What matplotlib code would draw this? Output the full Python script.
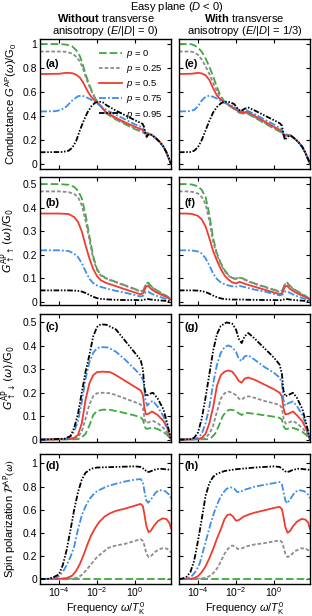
import matplotlib
matplotlib.use("Agg")
import matplotlib.pyplot as plt
import numpy as np
from matplotlib.ticker import NullLocator

plt.rcParams['font.family'] = ['Liberation Sans', 'DejaVu Sans']
plt.rcParams['mathtext.fontset'] = 'custom'
plt.rcParams['mathtext.rm'] = 'Liberation Sans'
plt.rcParams['mathtext.it'] = 'Liberation Sans:italic'
plt.rcParams['mathtext.bf'] = 'Liberation Sans:bold'
plt.rcParams['mathtext.sf'] = 'Liberation Sans'
plt.rcParams['mathtext.cal'] = 'Liberation Sans:italic'
plt.rcParams['lines.scale_dashes'] = False

# x values are log10(omega / T_K^0)

# ---- (a) conductance, E = 0
a_lx = [-5, -4, -3.6, -3.3, -3.1, -2.9, -2.75, -2.6, -2.45, -2.3, -2.1, -1.9, -1.5, -1.0, -0.5, 0,
        0.4, 0.5, 0.6, 0.7, 0.9, 1.1, 1.3, 1.5, 1.65, 1.8, 1.9]
a_p0 = [1.0, 1.0, 0.995, 0.98, 0.95, 0.90, 0.83, 0.75, 0.68, 0.62, 0.55, 0.50, 0.42, 0.37, 0.33, 0.29,
        0.265, 0.255, 0.26, 0.255, 0.24, 0.215, 0.185, 0.145, 0.10, 0.04, 0.0]
a_p25 = [0.9375, 0.9375, 0.935, 0.92, 0.895, 0.855, 0.80, 0.73, 0.665, 0.61, 0.545, 0.50, 0.425, 0.375, 0.335, 0.295,
         0.27, 0.255, 0.255, 0.255, 0.24, 0.215, 0.185, 0.145, 0.10, 0.04, 0.0]
a_p50 = [0.75, 0.752, 0.76, 0.757, 0.745, 0.72, 0.685, 0.64, 0.595, 0.56, 0.525, 0.50, 0.43, 0.385, 0.345, 0.31,
         0.285, 0.27, 0.25, 0.25, 0.24, 0.215, 0.185, 0.145, 0.10, 0.04, 0.0]
a_lx_p75 = [-5, -4.2, -3.9, -3.6, -3.3, -3.0, -2.8, -2.6, -2.3, -2.0, -1.5, -1.0, -0.5, 0, 0.4, 0.5, 0.6, 0.7,
            0.9, 1.1, 1.3, 1.5, 1.65, 1.8, 1.9]
a_p75 = [0.4375, 0.44, 0.45, 0.48, 0.53, 0.565, 0.57, 0.56, 0.535, 0.505, 0.45, 0.41, 0.37, 0.33, 0.305, 0.28,
         0.245, 0.25, 0.24, 0.215, 0.185, 0.145, 0.10, 0.04, 0.0]
a_lx_p95 = [-5, -3.8, -3.5, -3.3, -3.1, -2.9, -2.7, -2.5, -2.3, -2.1, -1.9, -1.7, -1.5, -1.0, -0.5, 0, 0.4, 0.48,
            0.55, 0.62, 0.7, 0.8, 0.9, 1.1, 1.3, 1.5, 1.65, 1.8, 1.9]
a_p95 = [0.0975, 0.10, 0.11, 0.135, 0.19, 0.28, 0.36, 0.43, 0.48, 0.51, 0.52, 0.515, 0.49, 0.445, 0.405, 0.365,
         0.335, 0.31, 0.255, 0.225, 0.245, 0.25, 0.24, 0.215, 0.185, 0.145, 0.10, 0.04, 0.0]

# ---- (e) conductance, E/|D| = 1/3
e_lx = [-5, -4.4, -4.2, -4.0, -3.8, -3.6, -3.4, -3.2, -3.0, -2.8, -2.6, -2.4, -2.2, -2.0, -1.8, -1.6, -1.4,
        -1.0, -0.5, 0, 0.3, 0.42, 0.5, 0.6, 0.7, 0.9, 1.1, 1.3, 1.5, 1.65, 1.8, 1.9]
e_p0 = [1.0, 1.0, 0.99, 0.97, 0.935, 0.88, 0.81, 0.73, 0.64, 0.565, 0.52, 0.49, 0.47, 0.445, 0.425, 0.42, 0.42,
        0.385, 0.34, 0.295, 0.27, 0.26, 0.245, 0.245, 0.245, 0.235, 0.21, 0.18, 0.14, 0.095, 0.04, 0.0]
e_p25 = [0.9375, 0.9375, 0.93, 0.91, 0.87, 0.815, 0.75, 0.675, 0.605, 0.55, 0.515, 0.49, 0.472, 0.45, 0.43, 0.425,
         0.425, 0.39, 0.345, 0.3, 0.275, 0.265, 0.245, 0.24, 0.245, 0.235, 0.21, 0.18, 0.14, 0.095, 0.04, 0.0]
e_p50 = [0.75, 0.752, 0.755, 0.76, 0.755, 0.74, 0.70, 0.63, 0.57, 0.535, 0.515, 0.495, 0.475, 0.455, 0.435, 0.43,
         0.435, 0.40, 0.355, 0.31, 0.285, 0.27, 0.245, 0.235, 0.24, 0.235, 0.21, 0.18, 0.14, 0.095, 0.04, 0.0]
e_lx_p75 = [-5, -4.5, -4.2, -4.0, -3.8, -3.6, -3.4, -3.2, -3.0, -2.8, -2.6, -2.4, -2.2, -2.0, -1.8, -1.65, -1.45,
            -1.0, -0.5, 0, 0.3, 0.42, 0.5, 0.6, 0.7, 0.9, 1.1, 1.3, 1.5, 1.65, 1.8, 1.9]
e_p75 = [0.4375, 0.44, 0.45, 0.48, 0.53, 0.56, 0.57, 0.56, 0.545, 0.525, 0.51, 0.5, 0.485, 0.465, 0.445, 0.44,
         0.448, 0.415, 0.37, 0.33, 0.3, 0.285, 0.25, 0.235, 0.24, 0.235, 0.21, 0.18, 0.14, 0.095, 0.04, 0.0]
e_lx_p95 = [-5, -4.4, -4.2, -4.0, -3.8, -3.6, -3.4, -3.2, -3.0, -2.8, -2.6, -2.3, -2.1, -1.9, -1.75, -1.55, -1.35,
            -1.0, -0.5, 0, 0.3, 0.42, 0.5, 0.58, 0.68, 0.8, 0.9, 1.1, 1.3, 1.5, 1.65, 1.8, 1.9]
e_p95 = [0.0975, 0.10, 0.11, 0.14, 0.2, 0.28, 0.36, 0.43, 0.475, 0.505, 0.52, 0.515, 0.5, 0.46, 0.44, 0.46, 0.47,
         0.445, 0.405, 0.365, 0.34, 0.32, 0.25, 0.2, 0.22, 0.235, 0.235, 0.21, 0.18, 0.14, 0.095, 0.04, 0.0]

# ---- (b) G_up,up, E = 0
b_lx = [-5, -4, -3.5, -3.2, -3.0, -2.8, -2.6, -2.4, -2.2, -2.0, -1.8, -1.5, -1.0, -0.5, 0, 0.3, 0.45, 0.58,
        0.7, 0.85, 1.1, 1.4, 1.7, 1.9]
b_p0 = [0.5, 0.5, 0.497, 0.488, 0.472, 0.44, 0.37, 0.28, 0.195, 0.14, 0.115, 0.10, 0.085, 0.07, 0.055, 0.045,
        0.05, 0.078, 0.082, 0.068, 0.052, 0.038, 0.024, 0.012]
b_p25 = [0.469, 0.469, 0.466, 0.458, 0.445, 0.41, 0.345, 0.265, 0.185, 0.135, 0.112, 0.098, 0.083, 0.068, 0.053,
         0.043, 0.048, 0.075, 0.078, 0.065, 0.05, 0.036, 0.022, 0.011]
b_p50 = [0.375, 0.375, 0.373, 0.36, 0.34, 0.30, 0.24, 0.185, 0.14, 0.11, 0.092, 0.08, 0.067, 0.053, 0.04, 0.032,
         0.038, 0.065, 0.068, 0.055, 0.042, 0.03, 0.019, 0.009]
b_p75 = [0.219, 0.219, 0.216, 0.205, 0.19, 0.165, 0.13, 0.098, 0.08, 0.07, 0.064, 0.057, 0.047, 0.039, 0.029,
         0.023, 0.027, 0.042, 0.043, 0.036, 0.027, 0.019, 0.011, 0.005]
b_p95 = [0.049, 0.049, 0.049, 0.048, 0.047, 0.044, 0.038, 0.03, 0.022, 0.016, 0.013, 0.011, 0.009, 0.008, 0.008,
         0.007, 0.008, 0.012, 0.012, 0.01, 0.008, 0.006, 0.004, 0.002]

# ---- (f) G_up,up, E/|D| = 1/3
f_lx = [-5, -4.6, -4.3, -4.0, -3.8, -3.6, -3.4, -3.2, -3.0, -2.8, -2.6, -2.4, -2.2, -2.0, -1.8, -1.6, -1.3,
        -1.0, -0.5, 0, 0.3, 0.45, 0.58, 0.7, 0.85, 1.1, 1.4, 1.7, 1.9]
f_p0 = [0.5, 0.5, 0.498, 0.49, 0.475, 0.445, 0.37, 0.27, 0.205, 0.165, 0.135, 0.115, 0.102, 0.099, 0.105, 0.098,
        0.087, 0.078, 0.065, 0.052, 0.044, 0.05, 0.078, 0.082, 0.068, 0.052, 0.038, 0.024, 0.012]
f_p25 = [0.469, 0.469, 0.467, 0.46, 0.445, 0.415, 0.345, 0.255, 0.198, 0.16, 0.131, 0.112, 0.1, 0.097, 0.103,
         0.096, 0.085, 0.076, 0.063, 0.05, 0.042, 0.048, 0.075, 0.078, 0.065, 0.05, 0.036, 0.022, 0.011]
f_p50 = [0.375, 0.375, 0.373, 0.365, 0.35, 0.32, 0.27, 0.215, 0.175, 0.14, 0.112, 0.095, 0.083, 0.079, 0.085,
         0.079, 0.071, 0.064, 0.052, 0.04, 0.033, 0.039, 0.065, 0.068, 0.055, 0.042, 0.03, 0.019, 0.009]
f_p75 = [0.219, 0.219, 0.218, 0.214, 0.205, 0.185, 0.155, 0.12, 0.097, 0.083, 0.075, 0.07, 0.066, 0.065, 0.068,
         0.064, 0.058, 0.052, 0.044, 0.034, 0.028, 0.031, 0.044, 0.045, 0.038, 0.028, 0.019, 0.011, 0.004]
f_p95 = [0.049, 0.049, 0.049, 0.048, 0.046, 0.042, 0.035, 0.027, 0.02, 0.015, 0.012, 0.011, 0.01, 0.01, 0.01,
         0.01, 0.009, 0.009, 0.008, 0.008, 0.007, 0.008, 0.012, 0.012, 0.01, 0.008, 0.006, 0.004, 0.002]

# ---- (c) G_up,down, E = 0
c_lx_p0 = [-5, -3.0, -2.8, -2.6, -2.4, -2.2, -2.0, -1.7, -1.3, -1.0, -0.5, 0, 0.3, 0.42, 0.52, 0.6, 0.75, 0.95,
           1.2, 1.5, 1.7, 1.9]
c_p0 = [0, 0.002, 0.01, 0.025, 0.06, 0.105, 0.122, 0.128, 0.127, 0.122, 0.113, 0.103, 0.095, 0.085, 0.055, 0.046,
        0.048, 0.052, 0.045, 0.033, 0.02, 0.0]
c_lx_p25 = [-5, -3.2, -3.0, -2.8, -2.6, -2.4, -2.2, -2.0, -1.7, -1.3, -1.0, -0.5, 0, 0.3, 0.42, 0.52, 0.6, 0.75,
            0.95, 1.2, 1.5, 1.7, 1.9]
c_p25 = [0, 0.003, 0.01, 0.035, 0.09, 0.15, 0.185, 0.198, 0.2, 0.198, 0.19, 0.175, 0.16, 0.15, 0.135, 0.085, 0.07,
         0.075, 0.08, 0.07, 0.05, 0.03, 0.0]
c_lx_p50 = [-5, -3.5, -3.2, -3.0, -2.8, -2.6, -2.4, -2.2, -2.0, -1.7, -1.3, -1.0, -0.5, 0, 0.3, 0.42, 0.5, 0.58,
            0.7, 0.9, 1.2, 1.5, 1.7, 1.9]
c_p50 = [0, 0.002, 0.008, 0.02, 0.07, 0.17, 0.24, 0.275, 0.288, 0.29, 0.288, 0.275, 0.25, 0.225, 0.21, 0.19, 0.135,
         0.108, 0.11, 0.12, 0.105, 0.08, 0.05, 0.0]
c_lx_p75 = [-5, -3.7, -3.4, -3.2, -3.0, -2.8, -2.6, -2.4, -2.2, -2.0, -1.8, -1.4, -1.0, -0.5, 0, 0.3, 0.45, 0.55,
            0.65, 0.8, 0.95, 1.2, 1.5, 1.7, 1.9]
c_p75 = [0, 0.003, 0.012, 0.035, 0.08, 0.16, 0.26, 0.33, 0.37, 0.39, 0.395, 0.393, 0.375, 0.34, 0.3, 0.275, 0.25,
         0.17, 0.145, 0.16, 0.165, 0.14, 0.1, 0.055, 0.0]
c_lx_p95 = [-5, -3.7, -3.4, -3.2, -3.0, -2.8, -2.6, -2.4, -2.2, -2.0, -1.8, -1.5, -1.0, -0.5, 0, 0.3, 0.42, 0.5,
            0.6, 0.75, 0.95, 1.2, 1.5, 1.7, 1.9]
c_p95 = [0, 0.004, 0.015, 0.05, 0.11, 0.2, 0.29, 0.36, 0.44, 0.48, 0.492, 0.49, 0.47, 0.42, 0.37, 0.34, 0.3, 0.22,
         0.185, 0.195, 0.2, 0.175, 0.13, 0.07, 0.0]

# ---- (g) G_up,down, E/|D| = 1/3
g_lx_p0 = [-5, -3.5, -3.3, -3.1, -2.9, -2.7, -2.5, -2.3, -2.1, -1.9, -1.7, -1.5, -1.3, -1.0, -0.5, 0, 0.3, 0.42,
           0.52, 0.62, 0.75, 1.0, 1.2, 1.5, 1.7, 1.9]
g_p0 = [0, 0.002, 0.008, 0.025, 0.06, 0.1, 0.122, 0.128, 0.125, 0.115, 0.105, 0.115, 0.113, 0.11, 0.104, 0.098,
        0.093, 0.085, 0.055, 0.045, 0.047, 0.05, 0.045, 0.033, 0.02, 0.0]
g_lx_p25 = [-5, -3.8, -3.6, -3.4, -3.2, -3.0, -2.8, -2.6, -2.4, -2.2, -2.0, -1.85, -1.7, -1.55, -1.35, -1.0, -0.5,
            0, 0.3, 0.42, 0.52, 0.62, 0.75, 1.0, 1.2, 1.5, 1.7, 1.9]
g_p25 = [0, 0.002, 0.008, 0.025, 0.06, 0.12, 0.175, 0.198, 0.205, 0.2, 0.19, 0.175, 0.17, 0.18, 0.185, 0.178,
         0.165, 0.155, 0.148, 0.135, 0.085, 0.068, 0.072, 0.08, 0.07, 0.05, 0.03, 0.0]
g_lx_p50 = [-5, -4.0, -3.8, -3.6, -3.4, -3.2, -3.0, -2.8, -2.6, -2.4, -2.2, -2.0, -1.85, -1.7, -1.55, -1.35, -1.0,
            -0.5, 0, 0.3, 0.42, 0.5, 0.6, 0.75, 1.0, 1.2, 1.5, 1.7, 1.9]
g_p50 = [0, 0.002, 0.008, 0.025, 0.07, 0.14, 0.23, 0.275, 0.29, 0.295, 0.29, 0.27, 0.25, 0.243, 0.26, 0.265, 0.255,
         0.235, 0.215, 0.2, 0.185, 0.135, 0.108, 0.11, 0.12, 0.105, 0.078, 0.045, 0.0]
g_lx_p75 = [-5, -4.2, -4.0, -3.8, -3.6, -3.4, -3.2, -3.0, -2.8, -2.6, -2.4, -2.2, -2.0, -1.85, -1.7, -1.55, -1.35,
            -1.0, -0.5, 0, 0.3, 0.42, 0.5, 0.6, 0.75, 1.0, 1.2, 1.5, 1.7, 1.9]
g_p75 = [0, 0.002, 0.008, 0.025, 0.07, 0.14, 0.24, 0.32, 0.37, 0.395, 0.402, 0.395, 0.375, 0.345, 0.335, 0.355,
         0.36, 0.34, 0.31, 0.285, 0.265, 0.24, 0.17, 0.145, 0.155, 0.163, 0.145, 0.105, 0.06, 0.0]
g_lx_p95 = [-5, -4.4, -4.2, -4.0, -3.8, -3.6, -3.4, -3.2, -3.0, -2.8, -2.5, -2.2, -2.0, -1.85, -1.7, -1.55, -1.35,
            -1.0, -0.5, 0, 0.3, 0.42, 0.5, 0.6, 0.75, 1.0, 1.2, 1.5, 1.7, 1.9]
g_p95 = [0, 0.002, 0.008, 0.03, 0.09, 0.18, 0.28, 0.38, 0.45, 0.485, 0.5, 0.495, 0.47, 0.43, 0.412, 0.44, 0.455,
         0.43, 0.39, 0.35, 0.32, 0.28, 0.21, 0.185, 0.19, 0.2, 0.18, 0.13, 0.07, 0.0]

# ---- (d) spin polarization, E = 0
d_lx_p0 = [-5, 1.9]
d_p0 = [0, 0]
d_lx_p25 = [-5, -3.5, -3.2, -3.0, -2.8, -2.6, -2.4, -2.2, -2.0, -1.7, -1.4, -1.0, -0.5, 0, 0.3, 0.42, 0.5, 0.6,
            0.72, 0.85, 1.1, 1.4, 1.65, 1.8, 1.9]
d_p25 = [0, 0.002, 0.005, 0.015, 0.035, 0.07, 0.11, 0.15, 0.19, 0.23, 0.27, 0.29, 0.305, 0.33, 0.345, 0.33, 0.29,
         0.22, 0.19, 0.2, 0.24, 0.265, 0.265, 0.25, 0.23]
d_lx_p50 = [-5, -4.0, -3.6, -3.3, -3.1, -2.9, -2.7, -2.5, -2.3, -2.1, -1.9, -1.6, -1.3, -1.0, -0.5, 0, 0.3, 0.42,
            0.5, 0.6, 0.72, 0.85, 1.0, 1.2, 1.45, 1.65, 1.8, 1.9]
d_p50 = [0, 0.002, 0.008, 0.03, 0.07, 0.13, 0.21, 0.3, 0.38, 0.44, 0.49, 0.54, 0.57, 0.59, 0.61, 0.635, 0.65, 0.63,
         0.56, 0.46, 0.405, 0.42, 0.46, 0.5, 0.525, 0.52, 0.49, 0.44]
d_lx_p75 = [-5, -4.5, -4.2, -4.0, -3.8, -3.6, -3.4, -3.2, -3.0, -2.8, -2.6, -2.4, -2.2, -2.0, -1.5, -1.0, -0.5, 0,
            0.3, 0.42, 0.5, 0.6, 0.7, 0.85, 1.1, 1.3, 1.6, 1.8, 1.9]
d_p75 = [0, 0.002, 0.01, 0.025, 0.06, 0.12, 0.19, 0.28, 0.43, 0.55, 0.63, 0.69, 0.73, 0.76, 0.8, 0.825, 0.845,
         0.86, 0.865, 0.84, 0.76, 0.68, 0.66, 0.69, 0.75, 0.77, 0.76, 0.73, 0.7]
d_lx_p95 = [-5, -4.6, -4.3, -4.0, -3.8, -3.6, -3.4, -3.2, -3.0, -2.8, -2.6, -2.3, -2.0, -1.0, 0, 0.3, 0.5, 0.65,
            0.8, 1.0, 1.3, 1.6, 1.9]
d_p95 = [0, 0.002, 0.015, 0.04, 0.12, 0.25, 0.42, 0.6, 0.75, 0.86, 0.92, 0.955, 0.965, 0.97, 0.975, 0.97, 0.95,
         0.925, 0.93, 0.945, 0.955, 0.95, 0.945]

# ---- (h) spin polarization, E/|D| = 1/3
h_lx_p0 = [-5, 1.9]
h_p0 = [0, 0]
h_lx_p25 = [-5, -4.0, -3.6, -3.4, -3.2, -3.0, -2.8, -2.6, -2.4, -2.2, -2.05, -1.9, -1.7, -1.4, -1.0, -0.5, 0, 0.3,
            0.42, 0.5, 0.6, 0.72, 0.85, 1.1, 1.4, 1.65, 1.8, 1.9]
h_p25 = [0, 0.002, 0.01, 0.025, 0.05, 0.09, 0.15, 0.22, 0.265, 0.29, 0.28, 0.26, 0.265, 0.285, 0.3, 0.31, 0.325,
         0.335, 0.32, 0.28, 0.22, 0.19, 0.2, 0.24, 0.265, 0.265, 0.25, 0.23]
h_lx_p50 = [-5, -4.4, -4.2, -4.0, -3.8, -3.6, -3.4, -3.2, -3.0, -2.8, -2.6, -2.45, -2.3, -2.15, -2.0, -1.85, -1.6,
            -1.3, -1.0, -0.5, 0, 0.3, 0.42, 0.5, 0.6, 0.72, 0.85, 1.0, 1.2, 1.45, 1.65, 1.8, 1.9]
h_p50 = [0, 0.002, 0.008, 0.025, 0.06, 0.11, 0.18, 0.26, 0.35, 0.43, 0.52, 0.555, 0.56, 0.54, 0.505, 0.51, 0.54,
         0.56, 0.575, 0.595, 0.615, 0.625, 0.605, 0.54, 0.45, 0.4, 0.415, 0.455, 0.495, 0.52, 0.515, 0.49, 0.43]
h_lx_p75 = [-5, -4.7, -4.5, -4.3, -4.1, -3.9, -3.7, -3.5, -3.3, -3.1, -2.9, -2.7, -2.5, -2.3, -2.1, -1.95, -1.8,
            -1.6, -1.3, -1.0, -0.5, 0, 0.3, 0.42, 0.5, 0.6, 0.7, 0.85, 1.1, 1.3, 1.6, 1.8, 1.9]
h_p75 = [0, 0.003, 0.01, 0.03, 0.07, 0.14, 0.26, 0.38, 0.5, 0.6, 0.68, 0.74, 0.78, 0.795, 0.785, 0.755, 0.75, 0.77,
         0.785, 0.8, 0.815, 0.83, 0.84, 0.82, 0.76, 0.68, 0.655, 0.69, 0.75, 0.77, 0.76, 0.73, 0.7]
h_lx_p95 = [-5, -4.8, -4.6, -4.4, -4.2, -4.0, -3.8, -3.6, -3.4, -3.2, -3.0, -2.6, -2.0, -1.0, 0, 0.3, 0.5, 0.65,
            0.8, 1.0, 1.3, 1.6, 1.9]
h_p95 = [0, 0.005, 0.02, 0.06, 0.16, 0.33, 0.52, 0.72, 0.83, 0.885, 0.91, 0.935, 0.95, 0.965, 0.975, 0.97, 0.945,
         0.925, 0.93, 0.945, 0.955, 0.95, 0.945]

p_labels = ["$p$ = 0", "$p$ = 0.25", "$p$ = 0.5", "$p$ = 0.75", "$p$ = 0.95"]
colors = ["#3fa83f", "#8c8c8c", "#f03c2e", "#3f8ee8", "#000000"]
dashes = [(5.5, 2.2), (2.6, 1.5), None, (5.0, 1.5, 1.3, 1.5), (4.0, 1.2, 1.1, 1.2, 1.1, 1.2)]

xtick_vals = [1e-4, 1e-2, 1e0]
xtick_labels = ["$10^{-4}$", "$10^{-2}$", "$10^{0}$"]
ytick_g = [0, 0.2, 0.4, 0.6, 0.8, 1]
ytick_g_labels = ["0", "0.2", "0.4", "0.6", "0.8", "1"]
ytick_s = [0, 0.1, 0.2, 0.3, 0.4, 0.5]
ytick_s_labels = ["0", "0.1", "0.2", "0.3", "0.4", "0.5"]

panels = {
    "a": [(a_lx, a_p0), (a_lx, a_p25), (a_lx, a_p50), (a_lx_p75, a_p75), (a_lx_p95, a_p95)],
    "e": [(e_lx, e_p0), (e_lx, e_p25), (e_lx, e_p50), (e_lx_p75, e_p75), (e_lx_p95, e_p95)],
    "b": [(b_lx, b_p0), (b_lx, b_p25), (b_lx, b_p50), (b_lx, b_p75), (b_lx, b_p95)],
    "f": [(f_lx, f_p0), (f_lx, f_p25), (f_lx, f_p50), (f_lx, f_p75), (f_lx, f_p95)],
    "c": [(c_lx_p0, c_p0), (c_lx_p25, c_p25), (c_lx_p50, c_p50), (c_lx_p75, c_p75), (c_lx_p95, c_p95)],
    "g": [(g_lx_p0, g_p0), (g_lx_p25, g_p25), (g_lx_p50, g_p50), (g_lx_p75, g_p75), (g_lx_p95, g_p95)],
    "d": [(d_lx_p0, d_p0), (d_lx_p25, d_p25), (d_lx_p50, d_p50), (d_lx_p75, d_p75), (d_lx_p95, d_p95)],
    "h": [(h_lx_p0, h_p0), (h_lx_p25, h_p25), (h_lx_p50, h_p50), (h_lx_p75, h_p75), (h_lx_p95, h_p95)],
}

W, H = 312, 616
fig = plt.figure(figsize=(W / 100, H / 100), dpi=100)

col_left = [40, 179]
col_width = 131
rows = [(39, 169), (177, 305), (314, 442), (454, 584)]
row_ylim = [(-0.042, 1.042), (-0.013, 0.53), (-0.01, 0.536), (-0.043, 1.082)]
row_ticks = [(ytick_g, ytick_g_labels), (ytick_s, ytick_s_labels), (ytick_s, ytick_s_labels),
             (ytick_g, ytick_g_labels)]
row_letter_y = [0.81, 0.80, 0.90, 0.91]
ylabels = [r"Conductance $G^{\mathrm{AP}}(\omega)/\mathrm{G}_0$",
           r"$G^{\mathrm{AP}}_{\uparrow\uparrow}(\omega)/\mathrm{G}_0$",
           r"$G^{\mathrm{AP}}_{\uparrow\downarrow}(\omega)/\mathrm{G}_0$",
           r"Spin polarization $\mathcal{P}^{\mathrm{AP}}(\omega)$"]
ylabel_math = [None, "dejavusans", "dejavusans", "stixsans"]
grid = [["a", "e"], ["b", "f"], ["c", "g"], ["d", "h"]]

for r, (top, bot) in enumerate(rows):
    for c in range(2):
        key = grid[r][c]
        ax = fig.add_axes([col_left[c] / W, 1 - bot / H, col_width / W, (bot - top) / H])
        for k, (lx, vals) in enumerate(panels[key]):
            line, = ax.plot(10 ** np.array(lx), vals, color=colors[k], lw=1.3, label=p_labels[k])
            if dashes[k] is not None:
                line.set_dashes(dashes[k])
        ax.set_xscale("log")
        ax.set_xlim(1e-5, 10 ** 1.9)
        ax.set_ylim(*row_ylim[r])
        ax.set_xticks(xtick_vals)
        ax.xaxis.set_minor_locator(NullLocator())
        ax.set_yticks(row_ticks[r][0])
        ax.tick_params(direction="in", top=True, right=True, length=3, width=0.8,
                       labelsize=7.5, pad=2)
        ax.tick_params(axis="x", pad=1.2)
        if r == 3:
            ax.set_xticklabels(xtick_labels)
            ax.set_xlabel(r"Frequency $\omega/T_{\mathrm{K}}^{0}$", fontsize=7.8)
            ax.xaxis.set_label_coords(0.5, -0.128)
        else:
            ax.set_xticklabels([])
        if c == 0:
            ax.set_yticklabels(row_ticks[r][1])
            if ylabel_math[r] is None:
                ax.set_ylabel(ylabels[r], fontsize=8, labelpad=3)
            else:
                ax.set_ylabel(ylabels[r], fontsize=8, labelpad=3, math_fontfamily=ylabel_math[r])
        else:
            ax.set_yticklabels([])
        for s in ax.spines.values():
            s.set_linewidth(1.0)
        ax.text(0.045, row_letter_y[r], "(%s)" % key, transform=ax.transAxes,
                fontsize=8, fontweight="bold", va="center", ha="left")
        if key == "a":
            ax.legend(loc="upper left", bbox_to_anchor=(0.45, 0.93), frameon=False, fontsize=6.8,
                      handlelength=2.4, handletextpad=0.5, labelspacing=0.33, borderpad=0,
                      borderaxespad=0)

fig.align_ylabels()

cx_left = (col_left[0] + col_width / 2) / W
cx_right = (col_left[1] + col_width / 2) / W
fig.text(0.567, 1 - 7.5 / H, "Easy plane ($D$ < 0)", ha="center", va="center", fontsize=8)
fig.text(cx_left, 1 - 18.5 / H, r"$\bf{Without}$ transverse", ha="center", va="center", fontsize=8)
fig.text(cx_left, 1 - 31 / H, r"anisotropy ($E/|D|$ = 0)", ha="center", va="center", fontsize=8)
fig.text(cx_right, 1 - 18.5 / H, r"$\bf{With}$ transverse", ha="center", va="center", fontsize=8)
fig.text(cx_right, 1 - 31 / H, r"anisotropy ($E/|D|$ = 1/3)", ha="center", va="center", fontsize=8)

fig.savefig("out.png", dpi=100)
